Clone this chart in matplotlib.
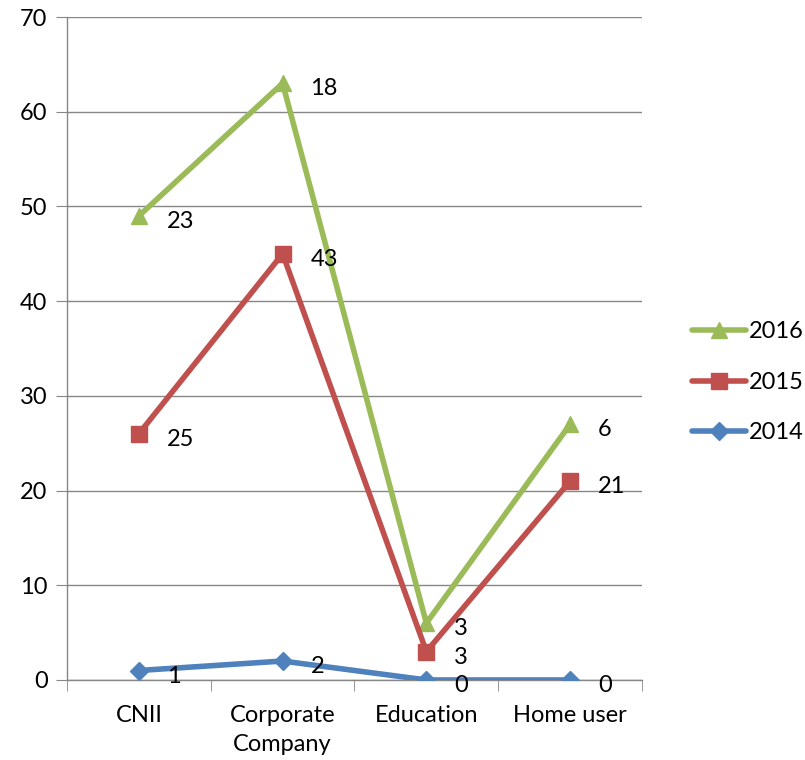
import numpy as np
import matplotlib.pyplot as plt

plt.rcParams['font.family'] = ['Lato', 'DejaVu Sans']

categories = ['CNII', 'Corporate\nCompany', 'Education', 'Home user']
v2014 = [1, 2, 0, 0]
v2015 = [25, 43, 3, 21]
v2016 = [23, 18, 3, 6]

# stacked line chart
c2014 = np.array(v2014)
c2015 = c2014 + np.array(v2015)
c2016 = c2015 + np.array(v2016)

GRID = '#868686'
FS = 17
fig = plt.figure(figsize=(8.05, 7.6), dpi=100)
ax = fig.add_axes([0.0832, 0.1053, 0.7143, 0.8723])

x = np.arange(len(categories))
series = [
    ('2016', c2016, v2016, '#9BBB59', '^', 12),
    ('2015', c2015, v2015, '#C0504D', 's', 11),
    ('2014', c2014, v2014, '#4F81BD', 'D', 9),
]
for name, ys, labels, color, marker, ms in series:
    ax.plot(x, ys, color=color, lw=4, marker=marker, markersize=ms,
            solid_capstyle='round', label=name, zorder=3)
    for xi, yi, lab in zip(x, ys, labels):
        ax.annotate(str(lab), (xi, yi), xytext=(20, -4), textcoords='offset points',
                    fontsize=FS, va='center', ha='left', zorder=4)

ax.set_ylim(0, 70)
ax.set_yticks(range(0, 71, 10))
ax.set_xlim(-0.5, 3.5)
ax.set_xticks(x)
ax.set_xticklabels(categories, fontsize=FS, linespacing=1.45)
ax.set_xticks(np.arange(-0.5, 4, 1), minor=True)
ax.tick_params(axis='x', which='major', length=0, pad=18)
ax.tick_params(axis='x', which='minor', length=8, color=GRID, direction='out')
ax.tick_params(axis='y', labelsize=FS, length=8, color=GRID, pad=6)
ax.yaxis.grid(True, color=GRID, lw=1)
ax.set_axisbelow(True)
for s in ['top', 'right']:
    ax.spines[s].set_visible(False)
for s in ['left', 'bottom']:
    ax.spines[s].set_color(GRID)
    ax.spines[s].set_linewidth(1)

ax.legend(loc='center left', bbox_to_anchor=(1.058, 0.449), frameon=False,
          fontsize=FS, handlelength=2.3, labelspacing=1.25, handletextpad=0.1,
          borderpad=0.2)

fig.savefig('out.png', dpi=100)
